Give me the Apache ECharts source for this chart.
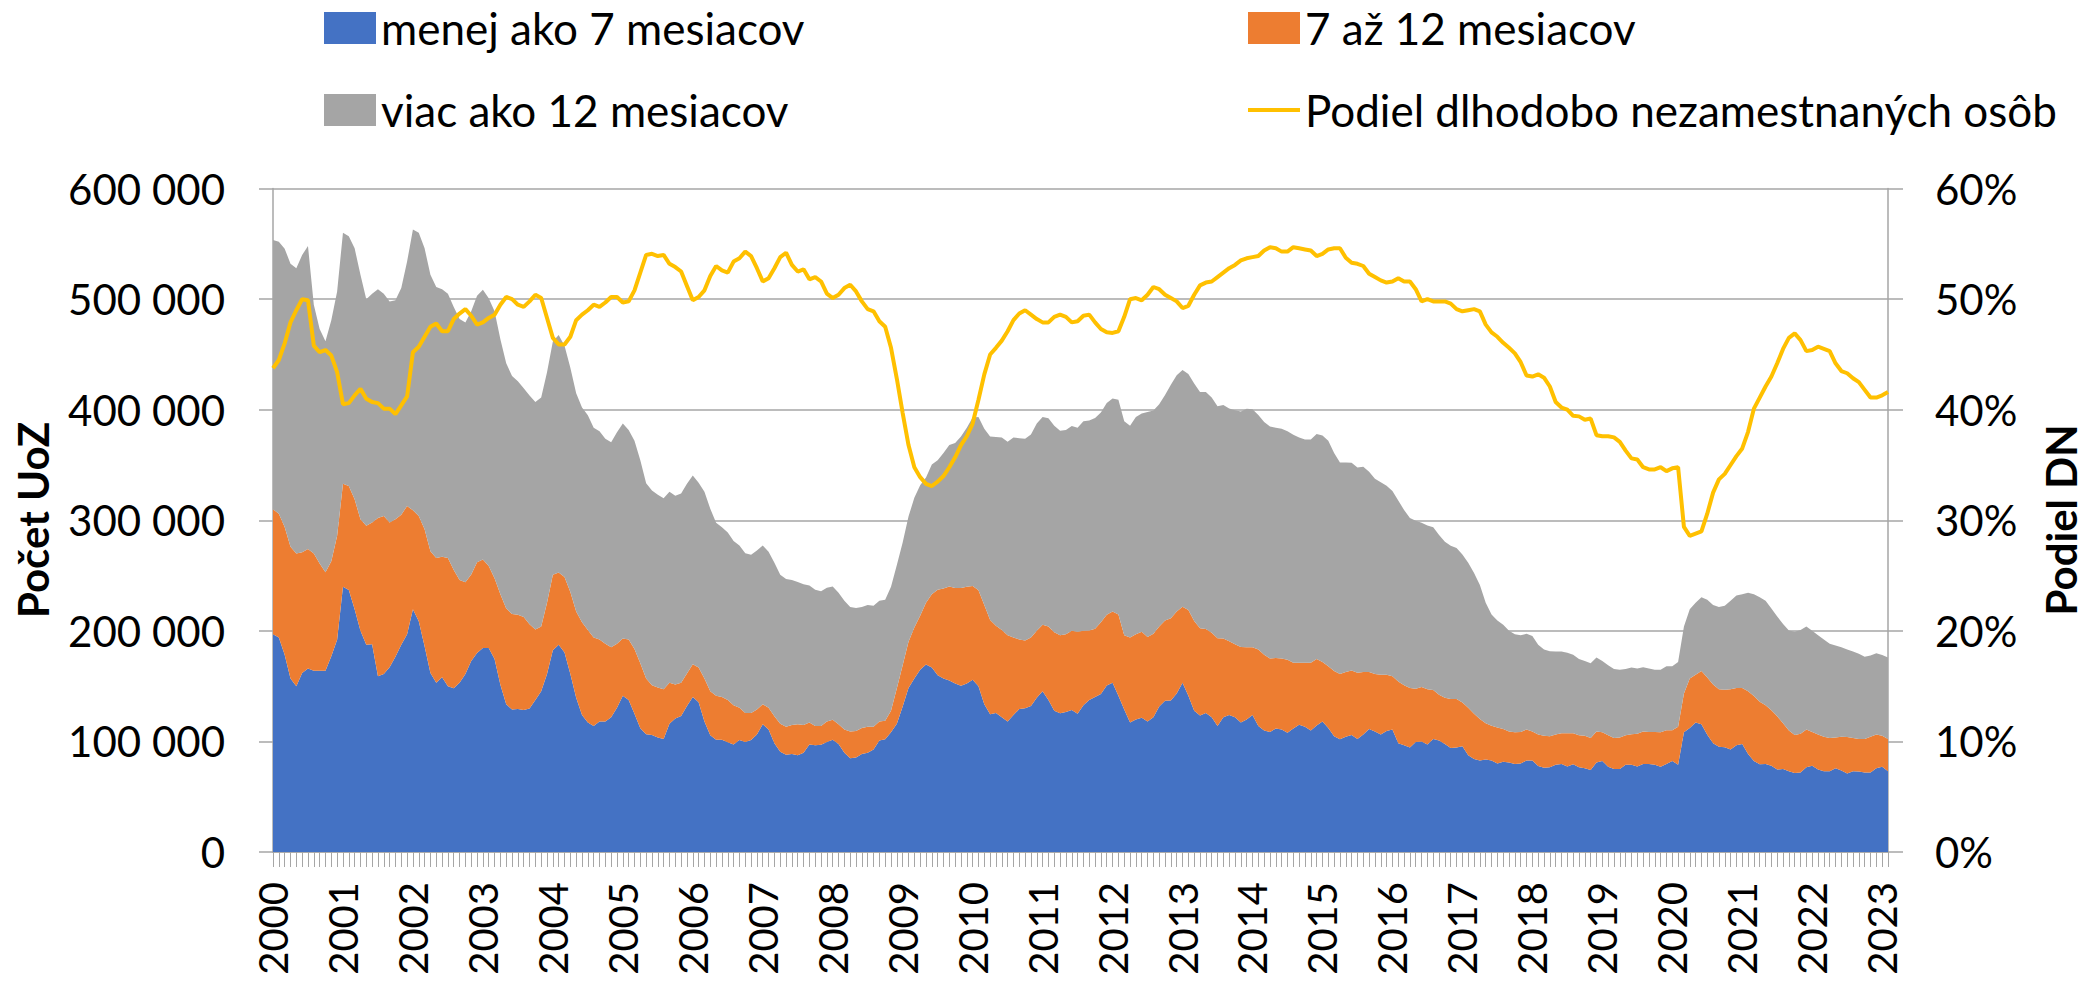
<!DOCTYPE html>
<html>
<head>
<meta charset="utf-8">
<script src="https://cdn.jsdelivr.net/npm/echarts@6/dist/echarts.min.js"></script>
<style>
html,body{margin:0;padding:0;background:#fff;}
#c{width:2097px;height:983px;}
</style>
</head>
<body>
<div id="c"></div>
<script>
// Monthly data Jan 2000 – Feb 2023 (one row per year)
const years = [2000,2001,2002,2003,2004,2005,2006,2007,2008,2009,2010,2011,2012,2013,2014,2015,2016,2017,2018,2019,2020,2021,2022,2023];
const monthsInLastYear = 2;

const seriesNames = ['menej ako 7 mesiacov','7 až 12 mesiacov','viac ako 12 mesiacov','Podiel dlhodobo nezamestnaných osôb'];

const under7 = [
197000,194000,178500,157000,150000,162000,166000,164000,164000,164000,177000,192000,
240000,237000,219500,200000,187500,188000,159000,161000,167000,176500,187500,197000,
219500,208600,186000,162000,153000,158000,150000,148000,153000,161000,172700,180000,
184400,184400,174600,151200,133600,128900,129300,128500,129700,137500,145300,161000,
182400,187500,180500,161000,139500,123800,117200,114000,118000,118000,121900,130500,
141400,137500,125000,112000,106600,105900,103500,102300,116000,120700,123000,132000,
140200,135500,118000,105500,101600,101600,99200,97300,101200,99600,101200,106300,
115600,110900,98400,90600,87900,88700,87500,89800,97300,96500,96900,99600,
101600,97700,89800,84800,85500,88700,89800,92600,100800,102000,108200,116000,
131600,148400,157000,164800,169500,166800,159800,157000,155100,152300,150400,152300,
155900,150000,133600,124600,125800,121900,118000,123800,129300,130100,132000,139500,
145300,137500,127700,125400,126600,128500,125000,132800,137500,140200,143000,150500,
153100,141400,128900,117200,119900,121500,118000,121900,131600,136700,137100,143400,
153100,141400,127700,123400,125800,121900,114000,121900,123800,121900,117200,119900,
123800,114000,109800,108600,111700,110900,107800,111700,115200,113300,110000,114500,
118000,112100,104700,102000,104300,105900,102300,106300,111300,109000,106300,109400,
110900,98400,96500,94500,99600,100000,97300,102300,100800,97700,94100,94500,
95700,87500,84000,82800,83600,82800,80100,81600,80900,79700,80100,82800,
82800,77700,76200,76600,78900,79700,77300,79300,76600,75800,74200,80900,
82400,77000,75000,75000,78900,78900,77300,79700,79700,78900,77000,79700,
82400,78900,108200,112100,117200,115600,106000,98400,95300,94700,92800,96500,
97700,88700,82400,79300,79700,78100,74600,75000,73000,71500,71900,76600,
78100,74600,73000,73000,75800,73800,71100,73000,72700,71900,71900,75800,
77000,73000
];

const from7to12 = [
113000,112000,115500,119000,120000,109000,108000,106000,97000,89000,86000,94000,
93000,94000,99500,101000,107500,110000,143000,143000,131000,124500,117500,116000,
89500,95400,106000,110000,113000,109000,116000,107000,93000,83000,78300,82000,
80100,74200,73100,82000,86700,86300,85200,84000,76200,63700,58600,64400,
68400,65200,68300,74200,78100,84000,83600,80100,74200,70300,63300,57800,
51600,54700,58600,58700,50400,44900,45300,45000,37100,30900,30100,29500,
29700,31300,39000,39800,39800,38600,38300,35500,29300,26200,24600,22600,
18000,19600,24300,25400,25400,26100,28100,25000,19900,17500,17100,18400,
17900,17900,21100,24200,23900,23400,23500,20700,17200,16800,19500,32000,
37200,41800,46100,48900,55900,66400,77300,81300,85100,86400,88300,87500,
84700,86700,89800,85200,78900,78900,78100,70300,62900,61300,62100,60500,
60200,66400,71100,70700,70300,71500,74200,67200,62900,61800,64800,64100,
64500,73400,67200,76900,77000,77700,76500,75400,72300,72700,74200,74200,
68800,77400,81300,78900,75800,76500,79400,71100,66800,66000,68300,65300,
61400,69200,68700,66400,63700,64100,66000,59400,55900,57800,61100,60000,
53900,55900,59000,58900,58600,58200,59800,56600,51600,51900,53900,50800,
48100,55900,54300,53900,48100,49200,50000,44200,41400,41800,44200,43800,
39500,43000,41000,37500,32800,31300,32400,29700,28100,28500,28500,27900,
26200,28600,28900,28100,27400,27700,30100,28100,28900,29300,28900,28100,
25800,28500,28100,28500,26600,27700,29700,29300,28900,29700,31200,30500,
27800,34400,35200,44900,43000,48100,51800,53000,52000,52000,54500,51900,
50700,56600,58600,56600,53100,50000,48100,41400,36800,34400,35100,34300,
30500,31700,31300,30100,27700,30500,32800,30100,29600,30400,32400,30500,
28100,29300
];

const over12 = [
243500,246000,251700,256000,258000,269000,274000,225000,212000,209000,218000,221000,
227000,226000,227000,221000,205000,207000,207000,201000,200000,198000,205000,221000,
254000,256000,254000,250000,245000,242000,239000,238000,236000,235000,238000,241000,
244100,242200,241300,230500,221700,215300,211300,207000,207000,205800,207100,208600,
210900,214900,209000,202800,197200,194200,194200,189500,188300,185500,185500,191400,
194500,189400,188300,183600,176600,176200,174200,172700,172700,170700,171100,171500,
170700,167200,168800,165200,156300,153600,151500,148500,146800,144500,143000,143800,
143700,141000,139000,134800,133600,131300,128500,127400,123800,123100,121900,121000,
120700,118800,116400,112500,111300,109400,110100,109400,109300,109300,112300,111500,
111200,113300,117200,117900,113300,117200,117200,122600,127800,131200,137100,143800,
152400,156700,159400,166000,170700,174200,175000,180900,182000,182400,183600,187500,
187900,188300,186700,184800,184700,185200,184400,189500,189800,190600,189700,191400,
192600,194200,193400,191400,196500,197300,203500,201900,201100,203900,211400,213600,
214000,213600,214800,213700,214400,212600,209700,211300,210600,211700,212900,215600,
215200,212100,210500,209800,208200,207800,206700,206200,203900,201900,201900,203500,
204700,203900,197200,191400,189400,187900,185600,185500,180900,176600,174200,171000,
167600,163700,158600,153600,151900,148500,148000,147300,144500,141000,138700,136700,
133900,131200,127300,121100,109000,100700,96900,94200,91000,88700,87500,86600,
86300,81200,78100,76900,75000,73900,72700,71100,69100,67600,67600,66800,
64500,63300,62500,61300,60100,60200,59000,58200,57400,56200,56600,57800,
57800,58600,60500,62500,65200,66800,70300,72000,74200,76000,80000,83600,
84800,89100,92200,94600,94500,92200,90200,89900,90600,93300,93800,93000,
91400,89800,87900,85200,83200,80900,79300,78200,77000,74300,73400,73400,
73000,73500
];

// Share of long-term unemployed, %
const shareLongTerm = [
43.75,44.5,46,47.9,49,50,49.9,45.8,45.2,45.4,44.9,43.4,
40.5,40.6,41.3,41.9,41,40.7,40.6,40.1,40.1,39.6,40.4,41.2,
45.2,45.7,46.6,47.5,47.8,47.1,47.1,48.2,48.7,49.1,48.5,47.7,
47.9,48.3,48.6,49.5,50.2,50,49.5,49.3,49.8,50.4,50.1,48.3,
46.5,45.9,45.9,46.6,48.1,48.6,49,49.5,49.3,49.7,50.2,50.2,
49.7,49.8,50.8,52.4,54,54.1,53.9,54,53.2,52.9,52.5,51.2,
49.9,50.2,50.8,52.1,53,52.6,52.4,53.4,53.7,54.3,53.9,52.8,
51.6,51.9,52.8,53.8,54.2,53.1,52.5,52.7,51.8,52,51.6,50.5,
50.1,50.4,51,51.3,50.7,49.8,49.1,48.9,48,47.5,45.6,42.8,
39.7,36.8,34.8,33.9,33.3,33.1,33.5,34,34.8,35.7,36.8,37.6,
38.75,40.9,43.2,45,45.6,46.25,47.1,48.1,48.7,49,48.6,48.2,
47.9,47.9,48.4,48.6,48.4,47.9,48,48.5,48.6,47.9,47.3,47,
46.95,47.1,48.4,50,50.1,49.9,50.4,51.1,50.9,50.4,50.1,49.8,
49.2,49.4,50.4,51.25,51.5,51.6,52,52.4,52.8,53.1,53.5,53.7,
53.8,53.9,54.4,54.7,54.6,54.3,54.3,54.7,54.6,54.5,54.4,53.9,
54.1,54.5,54.6,54.6,53.75,53.3,53.2,53,52.3,52,51.7,51.5,
51.6,51.9,51.6,51.6,50.9,49.8,50,49.8,49.8,49.8,49.6,49.1,
48.9,49,49.1,48.9,47.7,47,46.6,46.05,45.6,45.1,44.3,43.1,
43,43.2,42.9,42.1,40.7,40.2,40,39.45,39.4,39.1,39.2,37.7,
37.6,37.6,37.5,37.1,36.3,35.6,35.5,34.8,34.6,34.6,34.8,34.45,
34.7,34.8,29.4,28.6,28.8,29,30.6,32.5,33.7,34.2,35,35.8,
36.5,38,40.1,41.1,42.1,43,44.2,45.5,46.5,46.9,46.3,45.3,
45.4,45.7,45.5,45.3,44.2,43.5,43.3,42.85,42.5,41.8,41.1,41.1,
41.3,41.6
];

const leftTicks = [0,100000,200000,300000,400000,500000,600000];
const rightTicks = [0,10,20,30,40,50,60];

// Category labels (year-month)
const categories = [];
years.forEach((y, yi) => {
  const n = (yi === years.length - 1) ? monthsInLastYear : 12;
  for (let m = 1; m <= n; m++) categories.push(y + '-' + (m < 10 ? '0' + m : m));
});

const FONT = 'Lato';
const gridCol = '#A6A6A6';

const chart = echarts.init(document.getElementById('c'), null, {renderer: 'svg', width: 2097, height: 983});

function legendBox(name, left, top, icon) {
  return {
    data: [{name: name, icon: icon}],
    left: left, top: top,
    itemWidth: 52, itemHeight: 32, itemGap: 0,
    padding: 0,
    symbolKeepAspect: true,
    selectedMode: false,
    textStyle: {fontFamily: FONT, fontSize: 44, lineHeight: 44, color: '#000'}
  };
}

const option = {
  animation: false,
  backgroundColor: '#fff',
  textStyle: {fontFamily: FONT},
  legend: [
    legendBox(seriesNames[0], 324, 6, 'rect'),
    legendBox(seriesNames[1], 1248, 6, 'rect'),
    legendBox(seriesNames[2], 324, 88, 'rect'),
    legendBox(seriesNames[3], 1248, 88, 'path://M0,0L52,0L52,4L0,4Z')
  ],
  grid: {left: 273, right: 209, top: 188.6, bottom: 131, containLabel: false},
  xAxis: {
    type: 'category',
    data: categories,
    boundaryGap: false,
    axisLine: {show: true, lineStyle: {color: gridCol, width: 1.5}},
    axisTick: {show: true, interval: 0, length: 15, lineStyle: {color: gridCol, width: 1}},
    axisLabel: {
      interval: 11, rotate: 90, margin: 30,
      fontFamily: FONT, fontSize: 40, color: '#000',
      formatter: v => v.slice(0, 4)
    },
    splitLine: {show: false}
  },
  yAxis: [
    {
      type: 'value', min: leftTicks[0], max: leftTicks[leftTicks.length - 1], interval: leftTicks[1] - leftTicks[0],
      axisLine: {show: true, lineStyle: {color: gridCol, width: 1.5}},
      axisTick: {show: true, length: 14, lineStyle: {color: gridCol, width: 1.5}},
      splitLine: {show: true, lineStyle: {color: gridCol, width: 1.5}},
      axisLabel: {
        margin: 48, fontFamily: FONT, fontSize: 42, color: '#000',
        formatter: v => String(v).replace(/\B(?=(\d{3})+(?!\d))/g, ' ')
      }
    },
    {
      type: 'value', position: 'right', min: rightTicks[0], max: rightTicks[rightTicks.length - 1], interval: rightTicks[1] - rightTicks[0],
      axisLine: {show: true, lineStyle: {color: gridCol, width: 1.5}},
      axisTick: {show: true, length: 15, lineStyle: {color: gridCol, width: 1.5}},
      splitLine: {show: false},
      axisLabel: {margin: 47, fontFamily: FONT, fontSize: 42, color: '#000', formatter: '{value}%'}
    }
  ],
  graphic: [
    {type: 'text', x: 33, y: 520, rotation: Math.PI / 2,
     style: {text: 'Počet UoZ', fontFamily: FONT, fontSize: 42, fontWeight: 'bold', fill: '#000',
             align: 'center', verticalAlign: 'middle', textAlign: 'center', textVerticalAlign: 'middle'}},
    {type: 'text', x: 2061, y: 520, rotation: Math.PI / 2,
     style: {text: 'Podiel DN', fontFamily: FONT, fontSize: 42, fontWeight: 'bold', fill: '#000',
             align: 'center', verticalAlign: 'middle', textAlign: 'center', textVerticalAlign: 'middle'}}
  ],
  series: [
    {name: seriesNames[0], type: 'line', stack: 'uoz', data: under7, symbol: 'none',
     lineStyle: {width: 0}, itemStyle: {color: '#4472C4'}, areaStyle: {color: '#4472C4', opacity: 1}},
    {name: seriesNames[1], type: 'line', stack: 'uoz', data: from7to12, symbol: 'none',
     lineStyle: {width: 0}, itemStyle: {color: '#ED7D31'}, areaStyle: {color: '#ED7D31', opacity: 1}},
    {name: seriesNames[2], type: 'line', stack: 'uoz', data: over12, symbol: 'none',
     lineStyle: {width: 0}, itemStyle: {color: '#A5A5A5'}, areaStyle: {color: '#A5A5A5', opacity: 1}},
    {name: seriesNames[3], type: 'line', yAxisIndex: 1, data: shareLongTerm, symbol: 'none', z: 5,
     lineStyle: {color: '#FFC000', width: 4}, itemStyle: {color: '#FFC000'}}
  ]
};
chart.setOption(option);
</script>
</body>
</html>
